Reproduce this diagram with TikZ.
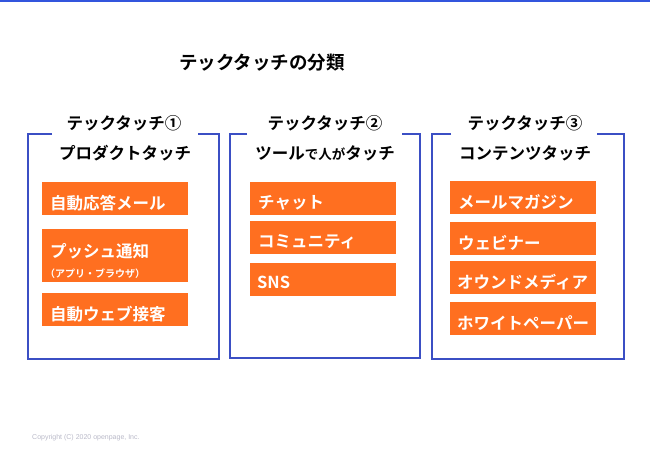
\documentclass[tikz,border=0pt]{standalone}
\usepackage{fontspec}
\setmainfont{Noto Sans CJK JP}[BoldFont={Noto Sans CJK JP Bold}]
\newfontfamily\latinfont{Liberation Sans}
\definecolor{orangeC}{RGB}{255,111,32}
\definecolor{blueC}{RGB}{59,79,196}
\definecolor{topblue}{RGB}{51,85,221}
\definecolor{copyC}{RGB}{185,185,200}
\begin{document}
\begin{tikzpicture}[x=1pt,y=-1pt,
  frame/.style={draw=blueC, line width=2pt},
  obox/.style={fill=orangeC, anchor=north west, inner sep=0pt, minimum width=146pt, minimum height=33pt},
  otext/.style={anchor=west, text=white, inner sep=0pt, font=\bfseries\fontsize{16.5}{16}\selectfont},
  ttl/.style={inner sep=0pt, font=\bfseries\fontsize{16.5}{17}\selectfont},
  maintitle/.style={inner sep=0pt, font=\bfseries\fontsize{18.5}{20}\selectfont}]
\useasboundingbox (0,0) rectangle (650,450);
\fill[topblue] (0,0) rectangle (650,1.5);

\node[maintitle] (title) at (262,63) {テックタッチの分類};

% frames
\draw[frame] (52,134) -- (28,134) -- (28,359) -- (219,359) -- (219,134) -- (198,134);
\draw[frame] (247,134) -- (230,134) -- (230,358) -- (420,358) -- (420,134) -- (402,134);
\draw[frame] (451,134) -- (432,134) -- (432,359) -- (624,359) -- (624,134) -- (597,134);

% titles
\node[ttl] (t1) at (124,123) {テックタッチ①};
\node[ttl] (t2) at (325,123) {テックタッチ②};
\node[ttl] (t3) at (525,123) {テックタッチ③};
\node[ttl] (s1) at (125,153) {プロダクトタッチ};
\node[ttl] (s2) at (325,153) {ツール{\fontsize{13.5}{14}\selectfont で人が}タッチ};
\node[ttl] (s3) at (525,153) {コンテンツタッチ};

% column 1
\node[obox] (a1) at (42,182) {};
\node[otext] (a1t) at ([xshift=8pt,yshift=-4pt]a1.west) {自動応答メール};
\node[obox, minimum height=53pt] (a2) at (42,229) {};
\node[otext] (a2t) at ([xshift=8pt]a2.north west |- 0,251) {プッシュ通知};
\node[otext, font=\bfseries\fontsize{10}{10}\selectfont] (a2s) at ([xshift=3pt]a2.north west |- 0,273.5) {（アプリ・ブラウザ）};
\node[obox] (a3) at (42,293) {};
\node[otext] (a3t) at ([xshift=8pt,yshift=-4pt]a3.west) {自動ウェブ接客};

% column 2
\node[obox] (b1) at (250,182) {};
\node[otext] (b1t) at ([xshift=8pt,yshift=-4pt]b1.west) {チャット};
\node[obox] (b2) at (250,221) {};
\node[otext] (b2t) at ([xshift=8pt,yshift=-4pt]b2.west) {コミュニティ};
\node[obox] (b3) at (250,263) {};
\node[otext] (b3t) at ([xshift=7pt,yshift=-3pt]b3.west) {SNS};

% column 3
\node[obox] (c1) at (450,181) {};
\node[otext] (c1t) at ([xshift=8pt,yshift=-4pt]c1.west) {メールマガジン};
\node[obox] (c2) at (450,222) {};
\node[otext] (c2t) at ([xshift=8pt,yshift=-4pt]c2.west) {ウェビナー};
\node[obox] (c3) at (450,261) {};
\node[otext] (c3t) at ([xshift=7pt,yshift=-4pt]c3.west) {オウンドメディア};
\node[obox] (c4) at (450,302) {};
\node[otext] (c4t) at ([xshift=7pt,yshift=-4pt]c4.west) {ホワイトペーパー};

\node[anchor=west, inner sep=0pt, text=copyC, font=\latinfont\fontsize{7}{7}\selectfont] (copy) at (32,438) {Copyright (C) 2020 openpage, Inc.};
\end{tikzpicture}
\end{document}
